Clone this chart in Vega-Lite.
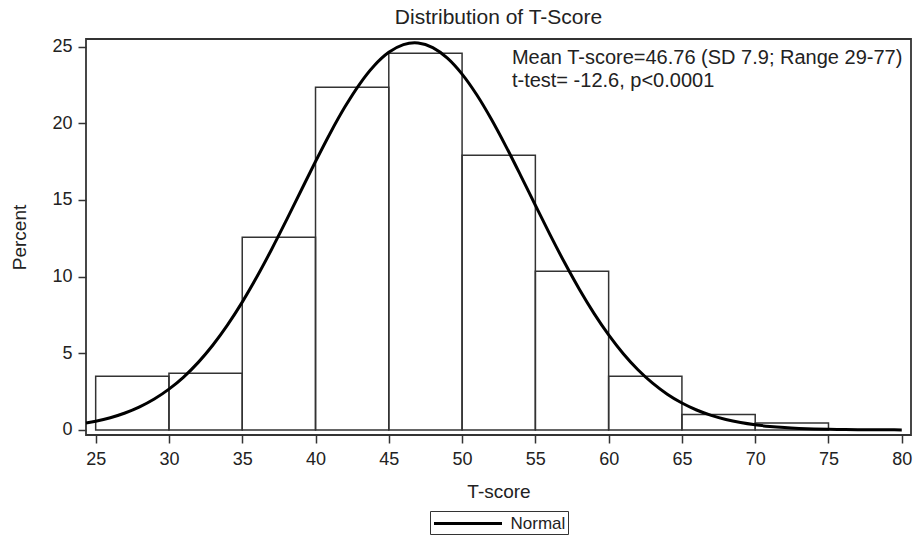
{
  "$schema": "https://vega.github.io/schema/vega-lite/v6.json",
  "width": 825,
  "height": 396,
  "autosize": {"type": "none"},
  "padding": {"left": 86, "top": 39, "right": 6, "bottom": 103},
  "title": {
    "text": "Distribution of T-Score",
    "fontSize": 21,
    "fontWeight": "normal",
    "font": "Liberation Sans",
    "color": "#222",
    "offset": 9
  },
  "datasets": {
    "bins": [
      {"bin_start": 25, "bin_end": 30, "percent": 3.5},
      {"bin_start": 30, "bin_end": 35, "percent": 3.7},
      {"bin_start": 35, "bin_end": 40, "percent": 12.57},
      {"bin_start": 40, "bin_end": 45, "percent": 22.35},
      {"bin_start": 45, "bin_end": 50, "percent": 24.57},
      {"bin_start": 50, "bin_end": 55, "percent": 17.92},
      {"bin_start": 55, "bin_end": 60, "percent": 10.35},
      {"bin_start": 60, "bin_end": 65, "percent": 3.5},
      {"bin_start": 65, "bin_end": 70, "percent": 1.0},
      {"bin_start": 70, "bin_end": 75, "percent": 0.45}
    ],
    "curve": [
      {"tscore": 24.34, "density": 0.45},
      {"tscore": 25, "density": 0.569},
      {"tscore": 26, "density": 0.799},
      {"tscore": 27, "density": 1.106},
      {"tscore": 28, "density": 1.506},
      {"tscore": 29, "density": 2.017},
      {"tscore": 30, "density": 2.661},
      {"tscore": 31, "density": 3.452},
      {"tscore": 32, "density": 4.408},
      {"tscore": 33, "density": 5.539},
      {"tscore": 34, "density": 6.851},
      {"tscore": 35, "density": 8.339},
      {"tscore": 36, "density": 9.987},
      {"tscore": 37, "density": 11.771},
      {"tscore": 38, "density": 13.654},
      {"tscore": 39, "density": 15.586},
      {"tscore": 40, "density": 17.509},
      {"tscore": 41, "density": 19.357},
      {"tscore": 42, "density": 21.059},
      {"tscore": 43, "density": 22.546},
      {"tscore": 44, "density": 23.755},
      {"tscore": 45, "density": 24.631},
      {"tscore": 46, "density": 25.133},
      {"tscore": 46.76, "density": 25.25},
      {"tscore": 47, "density": 25.238},
      {"tscore": 48, "density": 24.941},
      {"tscore": 49, "density": 24.255},
      {"tscore": 50, "density": 23.213},
      {"tscore": 51, "density": 21.863},
      {"tscore": 52, "density": 20.264},
      {"tscore": 53, "density": 18.483},
      {"tscore": 54, "density": 16.592},
      {"tscore": 55, "density": 14.656},
      {"tscore": 56, "density": 12.741},
      {"tscore": 57, "density": 10.9},
      {"tscore": 58, "density": 9.177},
      {"tscore": 59, "density": 7.603},
      {"tscore": 60, "density": 6.2},
      {"tscore": 61, "density": 4.975},
      {"tscore": 62, "density": 3.928},
      {"tscore": 63, "density": 3.052},
      {"tscore": 64, "density": 2.334},
      {"tscore": 65, "density": 1.757},
      {"tscore": 66, "density": 1.301},
      {"tscore": 67, "density": 0.948},
      {"tscore": 68, "density": 0.68},
      {"tscore": 69, "density": 0.48},
      {"tscore": 70, "density": 0.334},
      {"tscore": 71, "density": 0.228},
      {"tscore": 72, "density": 0.153},
      {"tscore": 73, "density": 0.102},
      {"tscore": 74, "density": 0.066},
      {"tscore": 75, "density": 0.042},
      {"tscore": 76, "density": 0.027},
      {"tscore": 77, "density": 0.017},
      {"tscore": 78, "density": 0.01},
      {"tscore": 79, "density": 0.006},
      {"tscore": 80, "density": 0.004}
    ],
    "notes": [
      {"line1": "Mean T-score=46.76 (SD 7.9; Range 29-77)", "line2": "t-test= -12.6, p<0.0001"}
    ]
  },
  "layer": [
    {
      "data": {"name": "bins"},
      "mark": {"type": "rect", "fill": "white", "fillOpacity": 0, "stroke": "#333", "strokeWidth": 1.5},
      "encoding": {
        "x": {
          "field": "bin_start",
          "type": "quantitative",
          "scale": {"domain": [24.34, 80.63], "nice": false, "zero": false},
          "axis": {
            "title": "T-score",
            "values": [25, 30, 35, 40, 45, 50, 55, 60, 65, 70, 75, 80]
          }
        },
        "x2": {"field": "bin_end"},
        "y": {
          "field": "percent",
          "type": "quantitative",
          "scale": {"domain": [-0.33, 25.5], "nice": false, "zero": false},
          "axis": {
            "title": "Percent",
            "values": [0, 5, 10, 15, 20, 25]
          }
        },
        "y2": {"datum": 0}
      }
    },
    {
      "data": {"name": "curve"},
      "mark": {"type": "line", "strokeWidth": 3, "interpolate": "monotone"},
      "encoding": {
        "x": {"field": "tscore", "type": "quantitative"},
        "y": {"field": "density", "type": "quantitative"},
        "color": {
          "datum": "Normal",
          "type": "nominal",
          "scale": {"range": ["#000000"]},
          "legend": {
            "title": null,
            "orient": "none",
            "legendX": 344,
            "legendY": 472,
            "symbolType": "M-1,0H7",
            "symbolSize": 289,
            "symbolStrokeWidth": 3,
            "symbolFillColor": "transparent",
            "labelFontSize": 17,
            "labelFont": "Liberation Sans",
            "labelColor": "#222",
            "strokeColor": "#333",
            "padding": 2.5,
            "labelOffset": 58
          }
        }
      }
    },
    {
      "data": {"name": "notes"},
      "mark": {
        "type": "text",
        "align": "left",
        "baseline": "middle",
        "fontSize": 20,
        "font": "Liberation Sans",
        "color": "#222",
        "lineHeight": 23
      },
      "encoding": {
        "x": {"datum": 53.4, "type": "quantitative"},
        "y": {"datum": 24.27, "type": "quantitative"},
        "text": {"value": ["Mean T-score=46.76 (SD 7.9; Range 29-77)", "t-test= -12.6, p<0.0001"]}
      }
    }
  ],
  "config": {
    "view": {"stroke": "#333", "strokeWidth": 1.8},
    "axis": {
      "domain": false,
      "grid": false,
      "ticks": true,
      "tickSize": 8,
      "tickWidth": 1.5,
      "tickColor": "#333",
      "labelFont": "Liberation Sans",
      "labelFontSize": 18,
      "labelColor": "#222",
      "titleFont": "Liberation Sans",
      "titleFontSize": 19,
      "titleFontWeight": "normal",
      "titleColor": "#222"
    },
    "axisX": {"labelPadding": 7, "titlePadding": 14},
    "axisY": {"labelPadding": 6, "titlePadding": 22}
  }
}
